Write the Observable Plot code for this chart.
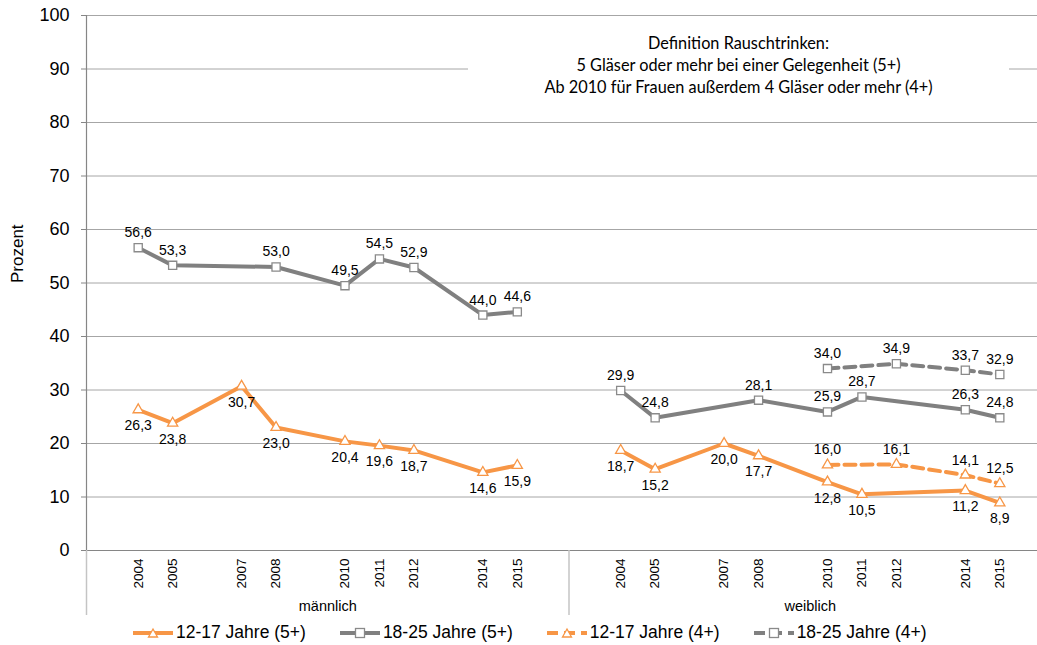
<!DOCTYPE html>
<html><head><meta charset="utf-8">
<script src="https://cdn.jsdelivr.net/npm/d3@7"></script>
<script src="https://cdn.jsdelivr.net/npm/@observablehq/plot@0.6"></script>
<style>
body{margin:0;background:#fff;font-family:"Liberation Sans",Arial,sans-serif;}
#wrap{position:relative;width:1037px;height:645px;overflow:hidden;background:#fff;}
#note{position:absolute;left:468px;top:32px;width:541px;height:72px;background:#fff;font-family:Lato,"Open Sans",sans-serif;font-size:16.3px;text-align:center;line-height:22px;color:#000;}
#legend{position:absolute;top:620px;left:133px;height:25px;display:flex;align-items:center;gap:34px;font-size:17.5px;color:#000;}
#legend .item{display:flex;align-items:center;}
#legend .item span{margin-left:3px;}
</style>
</head><body>
<div id="wrap">
  <div id="chart"></div>
  <div id="note"></div>
  <div id="legend"></div>
</div>
<script>
// ---- data ----
const groups = ["männlich", "weiblich"];
const tickYears = [2004, 2005, 2007, 2008, 2010, 2011, 2012, 2014, 2015];
const yTicks = [0, 10, 20, 30, 40, 50, 60, 70, 80, 90, 100];
const seriesNames = ["12-17 Jahre (5+)", "18-25 Jahre (5+)", "12-17 Jahre (4+)", "18-25 Jahre (4+)"];

const maleYears12 = [2004, 2005, 2007, 2008, 2010, 2011, 2012, 2014, 2015];
const male12_5 = [26.3, 23.8, 30.7, 23.0, 20.4, 19.6, 18.7, 14.6, 15.9];
const maleYears18 = [2004, 2005, 2008, 2010, 2011, 2012, 2014, 2015];
const male18_5 = [56.6, 53.3, 53.0, 49.5, 54.5, 52.9, 44.0, 44.6];

const femaleYears12 = [2004, 2005, 2007, 2008, 2010, 2011, 2014, 2015];
const female12_5 = [18.7, 15.2, 20.0, 17.7, 12.8, 10.5, 11.2, 8.9];
const femaleYears18 = [2004, 2005, 2008, 2010, 2011, 2014, 2015];
const female18_5 = [29.9, 24.8, 28.1, 25.9, 28.7, 26.3, 24.8];
const femaleYears4 = [2010, 2012, 2014, 2015];
const female12_4 = [16.0, 16.1, 14.1, 12.5];
const female18_4 = [34.0, 34.9, 33.7, 32.9];

const noteLines = [
  "Definition Rauschtrinken:",
  "5 Gläser oder mehr bei einer Gelegenheit (5+)",
  "Ab 2010 für Frauen außerdem 4 Gläser oder mehr (4+)"
];

// ---- build table ----
const rows = [];
function add(group, series, years, values) {
  years.forEach((y, i) => rows.push({group, series, year: y, value: values[i]}));
}
add(groups[0], seriesNames[0], maleYears12, male12_5);
add(groups[0], seriesNames[1], maleYears18, male18_5);
add(groups[1], seriesNames[0], femaleYears12, female12_5);
add(groups[1], seriesNames[1], femaleYears18, female18_5);
add(groups[1], seriesNames[2], femaleYears4, female12_4);
add(groups[1], seriesNames[3], femaleYears4, female18_4);

// category layout: each group has 14 slots (blank, 2004..2015, blank)
const slotsPerGroup = 14;
const pos = (group, year) => groups.indexOf(group) * slotsPerGroup + 1.5 + (year - 2004);
rows.forEach(d => d.x = pos(d.group, d.year));

const ORANGE = "#F79646", GREY = "#808080";
const colorOf = s => s.startsWith("12-17") ? ORANGE : GREY;
const isDashed = s => s.endsWith("(4+)");
const above = s => !(s === seriesNames[0]);
const fmt = v => v.toFixed(1).replace(".", ",");

const ticks = [];
groups.forEach(g => tickYears.forEach(y => ticks.push({x: pos(g, y), label: String(y)})));
const groupLabels = groups.map((g, i) => ({x: i * slotsPerGroup + slotsPerGroup / 2, label: g}));
const bounds = groups.map((g, i) => i * slotsPerGroup);

const W = 1037, H = 620, ML = 86;
const xMax = (W - ML) / ((1051 - ML) / (2 * slotsPerGroup));

const solid = rows.filter(d => !isDashed(d.series));
const dashed = rows.filter(d => isDashed(d.series));

const chart = Plot.plot({
  width: W, height: H,
  marginLeft: ML, marginRight: 0, marginTop: 15, marginBottom: 70,
  style: {fontFamily: "'Liberation Sans', Arial, sans-serif", background: "transparent", overflow: "visible"},
  x: {domain: [0, xMax], axis: null},
  y: {domain: [0, 100], axis: null},
  marks: [
    Plot.ruleY(yTicks.filter(d => d > 0), {stroke: "#a6a6a6", strokeWidth: 1}),
    Plot.ruleY([0], {stroke: "#868686", strokeWidth: 1.2}),
    Plot.ruleX(bounds, {y1: 0, y2: -12.15, stroke: "#c4c4c4", strokeWidth: 1.5}),
    Plot.ruleX([0], {y1: 0, y2: 100, stroke: "#868686", strokeWidth: 1.2}),
    Plot.axisY({ticks: yTicks, label: null, tickSize: 5, tickPadding: 12, fontSize: 18, stroke: "#868686", fill: "#000", tickFormat: d => String(d)}),
    Plot.text(["Prozent"], {frameAnchor: "left", dx: -69, rotate: -90, fontSize: 17, fill: "#000"}),
    // lines
    Plot.line(solid, {x: "x", y: "value", z: d => d.group + d.series, stroke: d => colorOf(d.series), strokeWidth: 4, strokeLinejoin: "round"}),
    Plot.line(dashed, {x: "x", y: "value", z: d => d.group + d.series, stroke: d => colorOf(d.series), strokeWidth: 4, strokeDasharray: "11,6", strokeLinejoin: "round"}),
    // markers
    Plot.dot(rows.filter(d => colorOf(d.series) === ORANGE), {x: "x", y: "value", symbol: "triangle", r: 3.8, fill: "white", stroke: ORANGE, strokeWidth: 1.3}),
    Plot.dot(rows.filter(d => colorOf(d.series) === GREY), {x: "x", y: "value", symbol: "square", r: 4.6, fill: "white", stroke: "#8a8a8a", strokeWidth: 1.3}),
    // data labels
    Plot.text(rows.filter(d => above(d.series)), {x: "x", y: "value", text: d => fmt(d.value), dy: -15, fontSize: 14, fill: "#000"}),
    Plot.text(rows.filter(d => !above(d.series)), {x: "x", y: "value", text: d => fmt(d.value), dy: 16, fontSize: 14, fill: "#000"}),
    // category labels
    Plot.text(ticks, {x: "x", y: () => 0, text: "label", rotate: -90, textAnchor: "end", dy: 8, fontSize: 13.5, fill: "#000"}),
    Plot.text(groupLabels, {x: "x", y: () => 0, text: "label", dy: 56, fontSize: 14.5, fill: "#000"})
  ]
});
document.getElementById("chart").appendChild(chart);

// note box
document.getElementById("note").innerHTML = noteLines.map(t => `<div>${t}</div>`).join("");

// legend
const leg = document.getElementById("legend");
seriesNames.forEach(s => {
  const c = colorOf(s);
  const dash = isDashed(s) ? 'stroke-dasharray="11,6"' : "";
  const marker = c === ORANGE
    ? `<path d="M20,2 L24.5,10 L15.5,10 Z" fill="white" stroke="${c}" stroke-width="1.3"/>`
    : `<rect x="15.5" y="1.5" width="9" height="9" fill="white" stroke="#8a8a8a" stroke-width="1.3"/>`;
  const item = document.createElement("div");
  item.className = "item";
  item.innerHTML = `<svg width="40" height="12"><line x1="0" y1="6" x2="40" y2="6" stroke="${c}" stroke-width="4" ${dash}/>${marker}</svg><span>${s}</span>`;
  leg.appendChild(item);
});
</script>
</body></html>
